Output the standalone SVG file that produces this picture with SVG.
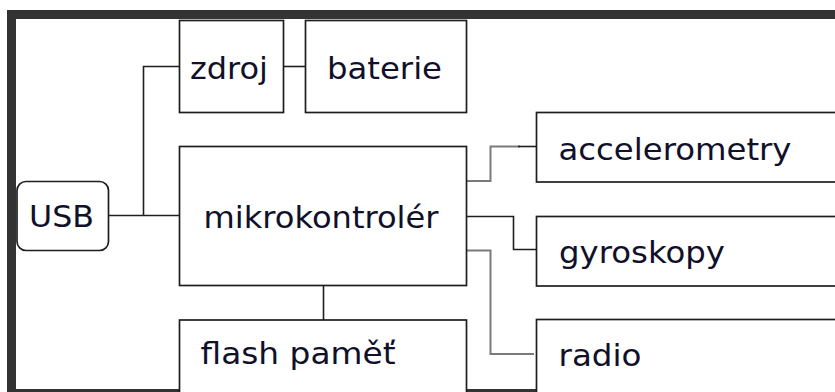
<svg xmlns="http://www.w3.org/2000/svg" width="835" height="392" viewBox="0 0 835 392">
<style>
.box{fill:#fff;stroke:#1e1e1e;stroke-width:1.7}
.lbl{font-family:"DejaVu Sans",sans-serif;font-size:29.5px;fill:#10102a}
.wire{fill:none;stroke:#1e1e1e;stroke-width:1.6}
.gray{fill:none;stroke:#7a7a7a;stroke-width:2}
</style>
<rect x="0" y="0" width="835" height="392" fill="#fff"/>
<rect x="11.5" y="14.5" width="900" height="379" fill="#fff" stroke="#333" stroke-width="9"/>
<g id="connectors">
<path class="wire" d="M108.5,215.5 H179.5 M143.5,215.5 V66.5 H179.5"/>
<path class="wire" d="M283.5,66.5 H305.5"/>
<path class="wire" d="M323.5,285.5 V320"/>
<path class="gray" d="M466.5,181 H490.5 V146.5 H520"/>
<path class="wire" d="M518,146.5 H536.5"/>
<path class="wire" d="M466.5,216.5 H513.5 V249.5 H536.5"/>
<path class="gray" d="M466.5,250.5 H490.5 V354 H534"/>
</g>
<g id="usb"><rect class="box" x="17" y="181.5" width="91.5" height="69" rx="9"/><text class="lbl" x="29" y="227" textLength="65" lengthAdjust="spacingAndGlyphs">USB</text></g>
<g id="zdroj"><rect class="box" x="179.5" y="20.5" width="104" height="92"/><text class="lbl" x="190" y="78.7" textLength="78" lengthAdjust="spacingAndGlyphs">zdroj</text></g>
<g id="baterie"><rect class="box" x="305.5" y="20.5" width="161" height="92"/><text class="lbl" x="327" y="78.7" textLength="115" lengthAdjust="spacingAndGlyphs">baterie</text></g>
<g id="mikrokontroler"><rect class="box" x="179.5" y="146.5" width="287" height="139"/><text class="lbl" x="203.5" y="227.5" textLength="235" lengthAdjust="spacingAndGlyphs">mikrokontrolér</text></g>
<g id="flash"><rect class="box" x="179.5" y="320" width="287" height="80"/><text class="lbl" x="200.5" y="364" textLength="195" lengthAdjust="spacingAndGlyphs">flash paměť</text></g>
<g id="accelerometry"><rect class="box" x="536.5" y="112.5" width="320" height="69.5"/><text class="lbl" x="558.5" y="159.5" textLength="233" lengthAdjust="spacingAndGlyphs">accelerometry</text></g>
<g id="gyroskopy"><rect class="box" x="536.5" y="216.5" width="320" height="69.5"/><text class="lbl" x="559" y="262.5" textLength="166" lengthAdjust="spacingAndGlyphs">gyroskopy</text></g>
<g id="radio"><rect class="box" x="536.5" y="319.5" width="320" height="80"/><text class="lbl" x="558.5" y="365.5" textLength="83" lengthAdjust="spacingAndGlyphs">radio</text></g>
</svg>
